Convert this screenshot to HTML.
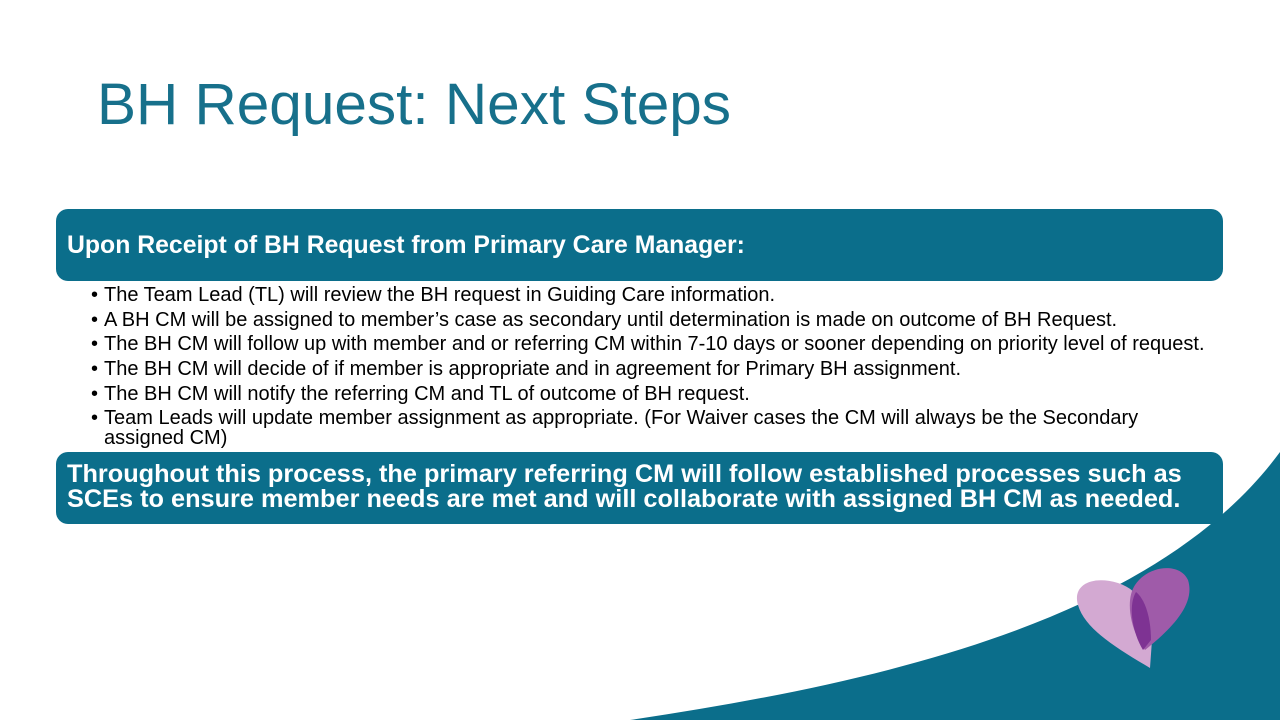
<!DOCTYPE html>
<html><head><meta charset="utf-8"><style>
body{margin:0;width:1280px;height:720px;overflow:hidden;background:#fff;font-family:"Liberation Sans",Arial,sans-serif;position:relative}
.title{position:absolute;left:97px;top:71px;font-size:58.5px;color:#17708b;white-space:nowrap}
.box{position:absolute;left:56px;width:1167px;background:#0b6e8b;border-radius:12px;color:#fff;font-weight:bold}
#b1{top:209px;height:72px}
#b1 span{position:absolute;left:11px;top:23px;font-size:24.8px;white-space:nowrap}
#b2{top:452px;height:72px;font-size:25.3px;line-height:25px}
#b2 div{position:absolute;left:11px;top:10px;white-space:nowrap}
ul{position:absolute;left:91px;top:285px;margin:0;padding:0;list-style:none;font-size:20px;color:#000;width:1080px}
li{position:relative;padding-left:13px;line-height:20px;margin-bottom:4.7px}
li:before{content:"•";position:absolute;left:0}
svg{position:absolute;left:0;top:0}
</style></head><body>
<svg width="1280" height="720">
<path d="M630,720 C900,680 1160,615 1280,452 L1280,720 Z" fill="#0b6e8b"/>
<g>
<path d="M1150,668 C1120,650 1085,630 1078,605 C1072,585 1092,575 1118,583 C1140,590 1150,610 1152,640 Z" fill="#d3a9d2"/>
<path d="M1145,650 C1130,630 1125,600 1135,585 C1148,565 1180,562 1188,580 C1196,605 1170,630 1145,650 Z" fill="#9f5ba9"/>
<path d="M1143,650 C1132,632 1128,605 1136,592 C1146,600 1151,620 1151,640 Z" fill="#7e3393"/>
</g>
</svg>
<div class="title">BH Request: Next Steps</div>
<div class="box" id="b1"><span>Upon Receipt of BH Request from Primary Care Manager:</span></div>
<ul>
<li>The Team Lead (TL) will review the BH request in Guiding Care information.</li>
<li>A BH CM will be assigned to member’s case as secondary until determination is made on outcome of BH Request.</li>
<li style="white-space:nowrap">The BH CM will follow up with member and or referring CM within 7-10 days or sooner depending on priority level of request.</li>
<li>The BH CM will decide of if member is appropriate and in agreement for Primary BH assignment.</li>
<li>The BH CM will notify the referring CM and TL of outcome of BH request.</li>
<li>Team Leads will update member assignment as appropriate. (For Waiver cases the CM will always be the Secondary assigned CM)</li>
</ul>
<div class="box" id="b2"><div>Throughout this process, the primary referring CM will follow established processes such as<br>SCEs to ensure member needs are met and will collaborate with assigned BH CM as needed.</div></div>
</body></html>
